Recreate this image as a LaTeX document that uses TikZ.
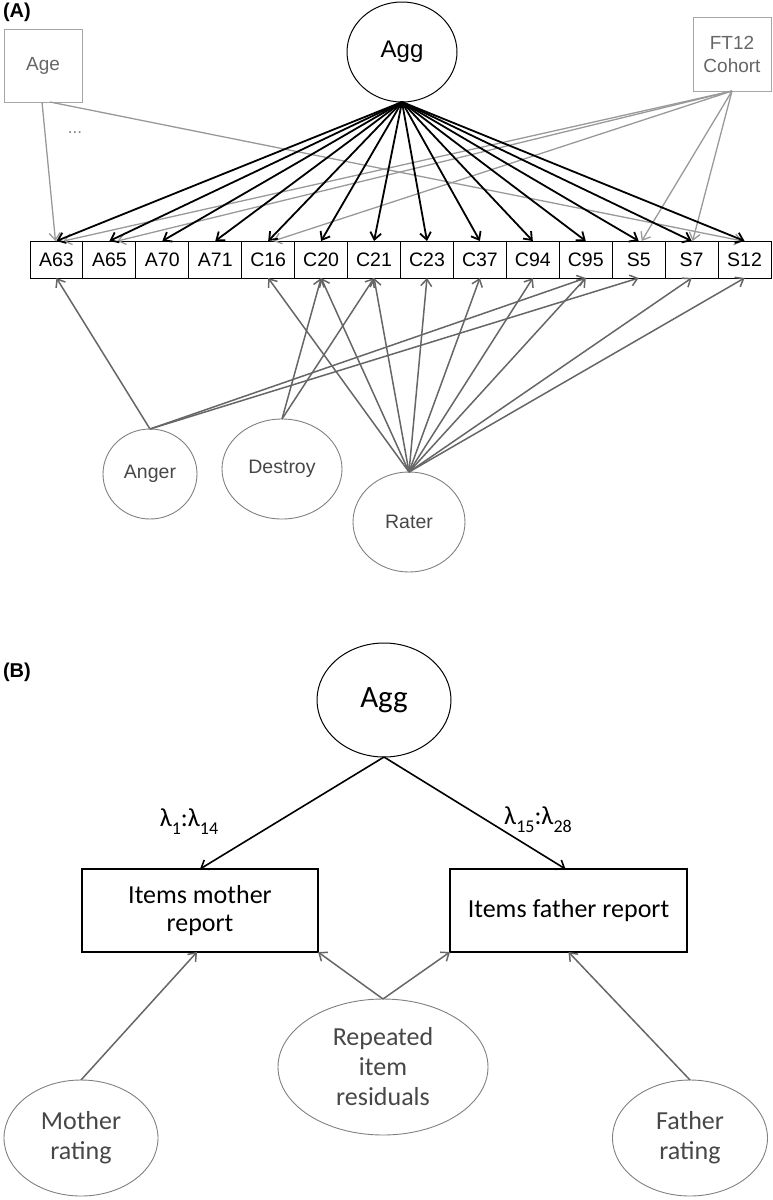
\documentclass[tikz,border=0pt]{standalone}
\usepackage{fontspec}
\setmainfont{Liberation Sans}
\newfontfamily\calibri{Carlito}
\usetikzlibrary{shapes.geometric,arrows.meta}
\newcommand\lsub[1]{\raisebox{-0.3em}{\fontsize{18}{18}\selectfont #1}}
\begin{document}
\begin{tikzpicture}[x=1pt,y=-1pt,
  every node/.style={inner sep=0pt, outer sep=0pt},
  item/.style={draw=black, line width=1pt, minimum width=52.93pt, minimum height=37pt, font=\fontsize{19.5}{22}\selectfont},
  covbox/.style={draw=black!35, line width=1pt, font=\fontsize{19}{23}\selectfont, text=black!60, align=center},
  lat/.style={ellipse, draw=black, line width=1pt},
  flat/.style={ellipse, draw=black!50, line width=0.9pt, text=black!72, font=\fontsize{19.5}{22}\selectfont},
  bbox/.style={draw=black, line width=1.1pt, font=\calibri\fontsize{26}{28}\selectfont, align=center},
  bell/.style={ellipse, draw=black!50, line width=0.9pt, text=black!72, align=center, font=\calibri\fontsize{26}{30}\selectfont},
  load/.style={-{Straight Barb[length=7pt,width=11pt]}, line width=1.8pt, black},
  covarr/.style={-{Straight Barb[length=7pt,width=11pt]}, line width=1.3pt, black!40},
  facarr/.style={-{Straight Barb[length=7pt,width=11pt]}, line width=1.5pt, black!60},
]
\useasboundingbox (0,0) rectangle (773,1200);

% ---------------- Panel A ----------------
\node[font=\bfseries\fontsize{20}{24}\selectfont, anchor=west] (labA) at (3,12) {(A)};
\node[covbox, minimum width=78pt, minimum height=73pt] (Age) at (43,65.5) {Age};
\node[covbox, minimum width=78pt, minimum height=74pt] (FT) at (732,54) {FT12\\Cohort};
\node[text=black!50, font=\fontsize{17}{18}\selectfont] (dots) at (75,133) {...};
\node[lat, minimum width=110pt, minimum height=100pt, font=\fontsize{24}{26}\selectfont] (Agg) at (402,52) {Agg};

\foreach \n [count=\i from 0] in {A63,A65,A70,A71,C16,C20,C21,C23,C37,C94,C95,S5,S7,S12}
  \node[item] (\n) at ({30+52.93*(\i+0.5)},259.5) {\n};

\node[flat, minimum width=94pt, minimum height=90pt] (Anger) at (150,474) {Anger};
\node[flat, minimum width=120pt, minimum height=100pt] (Destroy) at (282,469) {Destroy};
\node[flat, minimum width=112pt, minimum height=100pt] (Rater) at (409,522) {Rater};

% covariate paths
\draw[covarr] ([xshift=-1pt]Age.south) -- ([xshift=-1pt]A63.north);
\draw[covarr] ([xshift=7pt]Age.south) -- ([xshift=-2pt]S12.north);
\draw[covarr] (FT.south) -- ([xshift=7pt]A63.north);
\draw[covarr] (FT.south) -- ([xshift=8pt]A65.north);
\draw[covarr] (FT.south) -- ([xshift=5pt]C16.north);
\draw[covarr] (FT.south) -- ([xshift=3pt]S5.north);
\draw[covarr] (FT.south) -- ([xshift=1pt]S7.north);

% loadings on Agg
\foreach \n in {A63,A65,A70,A71,C16,C20,C21,C23,C37,C94,C95,S5,S7,S12}
  \draw[load] (Agg.south) -- (\n.north);

% specific factors
\foreach \n in {A63,C95,S5}
  \draw[facarr] (Anger.north) -- (\n.south);
\foreach \n in {C20,C21}
  \draw[facarr] (Destroy.north) -- (\n.south);
\foreach \n in {C16,C20,C21,C23,C37,C94,C95,S7,S12}
  \draw[facarr] (Rater.north) -- (\n.south);

% ---------------- Panel B ----------------
\node[font=\bfseries\fontsize{20}{24}\selectfont, anchor=west] (labB) at (3,672) {(B)};
\node[lat, minimum width=134pt, minimum height=114pt, font=\calibri\fontsize{31}{32}\selectfont] (AggB) at (384,700) {Agg};
\node[bbox, minimum width=236pt, minimum height=83pt] (Mom) at (200,910.5) {Items mother\\report};
\node[bbox, minimum width=237pt, minimum height=83pt] (Dad) at (568.5,910.5) {Items father report};
\node[bell, minimum width=210pt, minimum height=136pt] (Rep) at (383,1067) {Repeated\\item\\residuals};
\node[bell, minimum width=154pt, minimum height=116pt] (MomR) at (81,1138) {Mother\\rating};
\node[bell, minimum width=155pt, minimum height=116pt] (DadR) at (690,1138) {Father\\rating};

\node[font=\calibri\fontsize{26}{28}\selectfont] (l1) at (189,822) {λ\lsub{1}:λ\lsub{14}};
\node[font=\calibri\fontsize{26}{28}\selectfont] (l2) at (538,820) {λ\lsub{15}:λ\lsub{28}};

\draw[load, line width=1.6pt] (AggB.south) -- (Mom.north);
\draw[load, line width=1.6pt] (AggB.south) -- ([xshift=-3pt]Dad.north);
\draw[facarr] (Rep.north) -- (Mom.south east);
\draw[facarr] (Rep.north) -- (Dad.south west);
\draw[facarr] (MomR.north) -- ([xshift=-3pt]Mom.south);
\draw[facarr] (DadR.north) -- (Dad.south);
\end{tikzpicture}
\end{document}
